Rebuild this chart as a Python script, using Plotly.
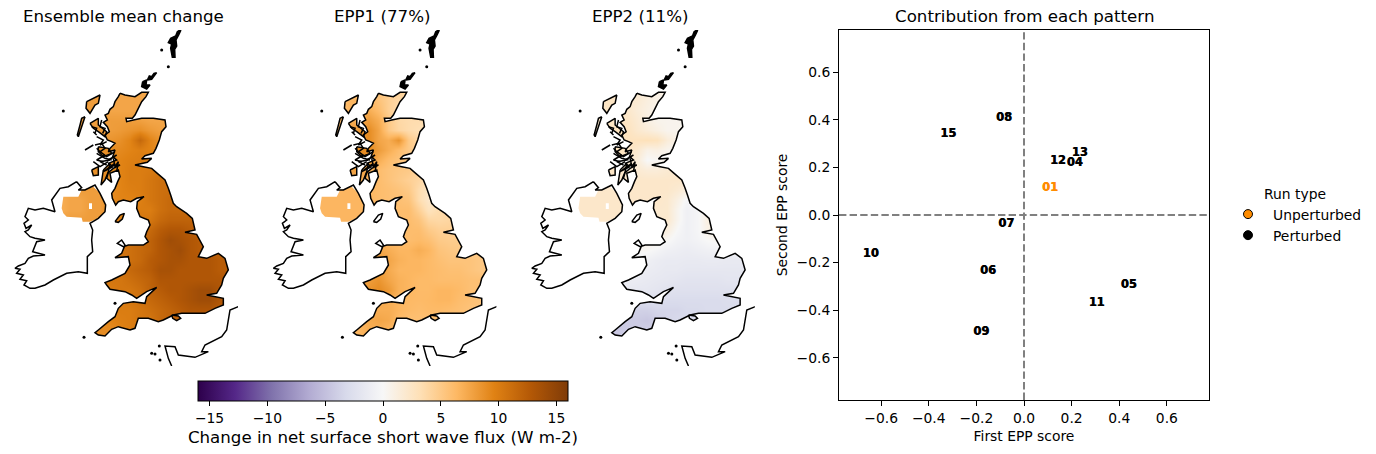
import plotly.graph_objects as go

# ---- data -----------------------------------------------------------------
run_ids = ["15","08","13","12","04","01","07","10","06","05","11","09"]
epp1 = [-0.318,-0.084,0.234,0.142,0.213,0.109,-0.075,-0.644,-0.151,0.44,0.305,-0.18]
epp2 = [0.339,0.406,0.259,0.226,0.218,0.113,-0.038,-0.163,-0.234,-0.293,-0.372,-0.494]
cbar_ticks = [-15,-10,-5,0,5,10,15]
titles = ["Ensemble mean change","EPP1 (77%)","EPP2 (11%)"]
grid_x = [180,210,240,270,300,330,360,390,420,450,480,510,540,570,600,630,660,690]
grid_y = [210,240,270,300,330,360,390,420,450,480,510,540,570,600,630,660,690,720,750,780,810,840,870,900,930,960]

mean_change = [
[8,8,8,8,8,8,7.5,7.5,7.5,7.5,7.5,7.5,8,8,8,8,8,8],
[8,8,8,8,8,7.5,7.5,7.5,7.5,7.5,7.5,7.5,8,8,8,8,8,8],
[8,8,8,8,8,7.5,7.5,7.5,7.5,7.5,7.5,7.5,8,8,8,8,8,8],
[8,8,8,8,8,8,8,8,7.8,7.5,7.5,7.5,8,8,8,8,8,8],
[8,8,8,8,8,8,8.2,8.5,8.8,8.2,7.8,7.8,8,8,8,8,8,8],
[8,8,8,8,8,8.5,8.8,9.5,11.5,9.5,8.5,8.5,8,8,8,8,8,8],
[8,8,8,8,8.5,9,9.2,9.5,9.8,9.5,9,9,9,9,9,9,9,9],
[8,8,8,8.5,9,9,9.5,9.8,10,10,10,10,10,10,10,10,10,10],
[8,8,8,8.5,9,9,9.5,10,10,10.2,10.5,10.5,10.5,10.5,10.5,10.5,10.5,10.5],
[8,8,8,8.5,9,9,9.5,10,10,10.5,11,11,11,11,11,11,11,11],
[7,7.5,8,8,8,9,9.5,9.8,10,10.5,11,11.2,11,11,11,11,11,11],
[7,7.5,7.5,8,8,9,9.5,9.5,9.8,10.5,11,11.5,11.5,11,11,11,11,11],
[7,7.5,7.5,8,8,9,9.5,9.5,10,10,11,11.5,11.5,11.5,11.5,11.5,11.5,11.5],
[8,8,8,8,8,9,9.5,10,10.5,10.5,11.5,12,12,12,12,12,12,12],
[10,10,10,10,10,10,10,10.5,11,11.5,12.5,13,13,12.5,12,12,12,12],
[10,10,10,10,10,10,10,11,11.5,12,13,14,13.5,13,12.5,12,12,12],
[10,10,10,10,10,10,10.5,11,11.5,12,13,13.5,14,13,12.5,12.5,12,12],
[10,10,10,10,10,10.5,10.5,11,11.5,12.5,13,13.5,13.5,13,13,13,12.5,12.5],
[10,10,10,10,10,10.5,11,11.5,12,12.5,13.5,13.5,13,13,13,13,12.5,12.5],
[10,10,10,10,10,10.5,10.5,11,11.5,12,13,13,13,13,13,13,13,12.5],
[10,10,10,10,10,10,10.5,10.5,11,12,12.5,13,13,13.5,14,14,13,12.5],
[10,10,10,10,10,10,10,10.5,11,11.5,12,12.5,13,13.5,14,14,13,12.5],
[9,9,9,9,9,9.5,10,10,10.5,11,11.5,12,12.5,13,13,13,12.5,12.5],
[9,9,9,9,9,9.5,9.8,10,10.5,10.5,11.5,12,12,12,12,12,12,12],
[9,9,9,9,9,9,9.5,10,10,10.5,11,11,11,11,11,11,11,11],
[9,9,9,9,9,9,9.5,10,10,10.5,11,11,11,11,11,11,11,11]]

epp1_map = [
[5,5,5,5,5,5,5.5,5,4.5,4,4,4,4,4,4,4,4,4],
[5,5,5,6.5,6.5,6.5,5.5,4.5,3.8,3.5,3.5,3.5,4,4,4,4,4,4],
[5,5,5,6.5,6.5,7,6,4.5,3.5,3.5,3.5,3.5,4,4,4,4,4,4],
[6,6,6,7,7,8,7,5,3.8,3.5,3.5,3.5,4,4,4,4,4,4],
[6,6,6,7.5,8,9,7.5,5,4,3.5,3.2,3.2,4,4,4,4,4,4],
[6,6,6,7.5,8.5,9,7.5,7,8.5,5,3.8,3.5,4,4,4,4,4,4],
[6,6,6,8,9,9,8,7,6,5,4.5,4,4,4,4,4,4,4],
[6,6,6,8,9,8.5,7,6,5.5,5.2,4.5,4,4,4,4,4,4,4],
[6,6,6,7.5,8,7,6,5.5,5.2,5,4.2,3.5,3.5,3.5,3.5,3.5,3.5,3.5],
[6,6,6,7,7,6.5,6,5.5,5,4.5,4,3,3,3,3,3,3,3],
[6.5,6.5,6.5,6.5,6.5,6.5,6,5.8,5.5,5,3.5,2.5,3,3.5,3.5,3.5,3.5,3.5],
[6.5,6.5,6.5,6.5,6.5,6.5,6,5.8,5.8,5.5,3.5,2.2,3,4,4,4,4,4],
[6.5,6.5,6.5,6.5,6.5,6.5,6,6,6,6,4.5,2.8,3.5,4,4,4,4,4],
[6.5,6.5,6.5,6.5,6.5,6.5,6.2,6,6,6,5.5,4,3.8,4,4,4,4,4],
[6.5,6.5,6.5,6.5,6.5,6.5,6.2,6,6,6,6,5,4.5,4.5,4.5,4.5,4.5,4.5],
[6.5,6.5,6.5,6.5,6.5,6.5,6.5,6.2,6.2,6,6.2,5.8,5,4.8,4.8,4.5,4.5,4.5],
[6.5,6.5,6.5,6.5,6.5,7,7.5,7,6.5,6.5,7,6.5,5.5,5.2,5,5,5,5],
[6.5,6.5,6.5,6.5,7,7.5,8,7.5,6.8,6.5,6.5,6.2,5.8,5.5,5.5,5.5,5.2,5.2],
[6.5,6.5,6.5,6.5,7,8,8,7.2,6.5,6.5,6.5,6.2,6,5.8,5.8,5.5,5.2,5.2],
[6.5,6.5,6.5,6.5,7,8,8.5,7.5,6.8,6.5,6.2,6.2,6,6,6,5.8,5.8,5.5],
[6.5,6.5,6.5,7,8,8.5,9,8.2,6.8,6.5,6.2,6.2,6.5,6.5,6.2,5.8,5.8,5.5],
[6.5,6.5,6.5,6.5,7.5,7.5,7.5,7,6.5,6.3,6.2,6.3,6.5,6.5,6,5.8,5.5,5.5],
[6.5,6.5,6.5,6.5,7,7,7,7,6.5,6.2,6,6.2,6.2,6,5.8,5.5,5.5,5.5],
[6.5,6.5,6.5,6.5,6.5,7.2,7.5,7.2,6.2,5.8,5.8,5.8,5.8,5.8,5.5,5.5,5.5,5.5],
[6.5,6.5,6.5,6.5,6.5,7,7,6.5,6,5.5,5.5,5.5,5.5,5.5,5.5,5.5,5.5,5.5],
[6.5,6.5,6.5,6.5,6.5,7,7,6.5,6,5.5,5.5,5.5,5.5,5.5,5.5,5.5,5.5,5.5]]

epp2_map = [
[2,2,2,2,2,2,1.8,1.5,1,1,1,1,1,1,1,1,1,1],
[2,2,2,2.5,2.5,2,1.8,1.2,0.8,0.6,0.6,0.6,1,1,1,1,1,1],
[2,2,2,2.5,2.5,2.2,1.5,1,0.6,0.5,0.5,0.5,1,1,1,1,1,1],
[2,2,2,2.5,2.5,2.5,1.8,1,0.6,0.5,0.5,0.5,1,1,1,1,1,1],
[2,2,2,2.5,2.8,2.8,2,1.5,1,0.5,0.5,0.3,1,1,1,1,1,1],
[2,2,2,2.5,2.8,2.8,2.8,3,2.8,1.5,0.8,0.5,1,1,1,1,1,1],
[2,2,2,2.5,2.8,2.5,2,0.8,1,0.5,0.3,0.3,0.5,0.5,0.5,0.5,0.5,0.5],
[2,2,2,2.5,2.5,2,1.5,0,0.2,0.5,1,1.5,1.5,1.5,1.5,1.5,1.5,1.5],
[2,2,2,2.5,2.5,2,1.8,1.5,1.5,1.8,2,2,2,2,2,2,2,2],
[2,2,2,2,2,2.2,2.2,2.2,2.2,2.2,2.2,2.2,2,2,2,2,2,2],
[2.2,2.2,2.2,2.2,2.2,2.2,2.2,2.2,2.2,2.2,1.8,1.2,1.2,1.2,1.2,1.2,1.2,1.2],
[2.2,2.2,2.2,2.2,2.2,2.2,2.2,2.2,2.2,2,1,-0.3,0.2,1,1,1,1,1],
[2.2,2.2,2.2,2.2,2.2,2.2,2.2,2.2,2,2,0.5,-0.8,-0.3,0.8,1,1,1,1],
[2.2,2.2,2.2,2.2,2.2,2.2,2.2,2,2,2,0.5,-0.8,-0.3,1,1.2,1.2,1.2,1.2],
[1,1,1,1,1,1,1.2,1.5,1.8,1.2,0,-0.8,-0.3,0.8,1.5,1.5,1.5,1.5],
[0.5,0.5,0.5,0.5,0.5,0.5,0.8,0.8,0.8,0.2,-0.5,-0.8,-0.5,0,0.3,0.3,0.3,0.3],
[0,0,0,0,0,0,0.3,0.2,-0.3,-0.8,-1,-1.2,-1,-0.8,-0.6,-0.5,-0.5,-0.5],
[-0.5,-0.5,-0.5,-0.5,-0.5,-0.5,-0.6,-0.8,-1.2,-1.4,-1.4,-1.5,-1.5,-1.4,-1.4,-1.5,-1.5,-1.5],
[-1,-1,-1,-1,-1,-1,-1,-1.2,-1.4,-1.6,-1.6,-1.8,-1.8,-1.8,-1.8,-1.8,-1.8,-1.8],
[-1.5,-1.5,-1.5,-1.5,-1.2,-1.2,-1.3,-1.5,-1.7,-1.8,-2,-2.2,-2.2,-2.2,-2.2,-2,-2,-2],
[-2,-2,-2,-2,-1.5,-1.5,-1.8,-1.8,-2,-2.3,-2.5,-2.5,-2.5,-2.5,-2.5,-2.5,-2.5,-2.5],
[-3,-3,-3,-3,-2.8,-2.8,-2.8,-2.8,-2.8,-3,-3,-3,-3,-3,-3,-2.8,-2.8,-2.8],
[-4,-4,-4,-4,-4,-3.8,-3.8,-3.8,-3.5,-3.5,-3.5,-3.2,-3.2,-3,-3,-3,-3,-3],
[-4.5,-4.5,-4.5,-4.5,-4.5,-4.2,-4.2,-4.5,-4,-3.5,-3.2,-3.2,-3,-3,-3,-3,-3,-3],
[-4.5,-4.5,-4.5,-4.5,-4.5,-4.2,-4.2,-4,-3.8,-3.5,-3.2,-3,-3,-3,-3,-3,-3,-3],
[-4.5,-4.5,-4.5,-4.5,-4.5,-4.2,-4.2,-4,-3.8,-3.5,-3.2,-3,-3,-3,-3,-3,-3,-3]]

# coast outlines in map units (x east, y south)
gb_main = [(360,220),(355,230),(345,245),(340,260),(330,268),(325,280),(315,285),(322,300),(310,307),(322,320),(328,335),(315,345),(322,360),(335,365),(345,370),(330,385),(325,395),(345,390),(338,410),(350,420),(325,430),(335,437),(360,435),(340,445),(325,457),(320,475),(335,487),(330,460),(355,450),(360,470),(353,485),(345,505),(335,520),(337,535),(347,555),(355,545),(370,540),(392,545),(410,535),(432,530),(412,545),(410,565),(420,590),(445,600),(450,615),(440,635),(435,650),(445,665),(430,675),(385,675),(370,680),(352,670),(365,660),(375,675),(365,700),(345,713),(385,710),(390,735),(375,760),(335,780),(315,788),(320,795),(330,808),(375,815),(395,825),(410,835),(440,815),(470,802),(440,830),(435,850),(400,845),(370,850),(355,865),(345,890),(325,905),(295,930),(285,938),(295,945),(315,948),(335,928),(355,920),(390,930),(405,925),(415,895),(445,895),(475,905),(490,900),(520,885),(545,880),(600,880),(615,880),(645,865),(670,855),(670,835),(620,825),(650,820),(665,795),(670,775),(685,750),(675,715),(655,700),(620,715),(595,710),(610,680),(590,643),(555,637),(585,630),(577,595),(560,580),(530,560),(520,550),(512,525),(505,505),(495,480),(472,460),(455,445),(430,440),(405,435),(442,427),(455,415),(425,417),(435,407),(460,400),(468,385),(478,360),(485,335),(498,320),(495,300),(460,295),(425,295),(400,300),(380,305),(378,295),(397,295),(405,285),(415,265),(425,245),(438,230),(445,217),(425,217),(405,230),(375,225),(360,220)]
lewis = [(260,245),(300,225),(295,250),(285,255),(270,280),(258,265),(260,245)]
uist = [(255,290),(235,350),(232,345),(240,315),(245,295),(255,290)]
skye = [(270,310),(295,295),(295,315),(320,335),(315,350),(295,335),(280,325),(270,310)]
mull = [(295,380),(325,385),(335,400),(310,410),(295,395),(295,380)]
islay = [(275,450),(295,440),(295,465),(280,467),(275,450)]
jura = [(310,450),(330,430),(325,455),(315,480),(303,495),(310,450)]
man = [(345,605),(360,585),(373,580),(367,597),(355,607),(345,605)]
wight = [(515,885),(535,888),(542,895),(530,902),(518,895),(515,885)]
ireland = [(230,485),(245,503),(235,510),(255,510),(285,495),(300,520),(317,555),(315,575),(295,595),(270,610),(278,630),(275,660),(278,695),(262,710),(262,760),(235,755),(200,760),(160,780),(135,795),(105,805),(90,805),(72,795),(80,782),(60,778),(70,765),(50,760),(60,748),(45,745),(55,738),(75,730),(85,715),(100,708),(135,705),(98,695),(110,665),(135,660),(105,655),(90,650),(75,635),(85,630),(95,615),(78,625),(72,610),(85,600),(75,590),(85,565),(105,570),(130,565),(165,575),(155,540),(180,505),(205,500),(230,485)]
ni_cells = [(190,530),(235,530),(245,510),(280,500),(300,520),(317,555),(315,575),(295,595),(270,605),(248,605),(245,593),(200,590),(190,580),(185,565),(190,530)]
ni_lough = [(267,550),(276,550),(276,567),(267,567),(267,550)]
france = [(720,858),(690,870),(680,930),(665,950),(615,975),(605,995),(625,995),(585,1012),(535,1005),(525,980),(495,978),(505,1015),(515,1038)]
sea_lochs = [[(255,390),(280,375)],[(300,395),(320,410),(345,395)],[(330,420),(300,425),(320,435)],[(340,440),(310,455),(345,430)],[(290,350),(310,360),(300,375),(320,365)],[(315,405),(290,420),(310,425)],[(280,335),(290,345)],[(345,410),(325,420),(350,405)],[(285,375),(305,370),(315,385),(300,395),(290,385)],[(290,400),(315,415),(335,420)],[(280,425),(300,440),(325,425)],[(340,415),(345,440),(355,425),(350,455)],[(305,300),(300,320),(315,325),(308,340)],[(275,320),(290,325),(285,340)]]
shetland = [(540,30),(532,35),(527,48),(512,55),(505,68),(515,72),(512,85),(517,112),(525,112),(524,88),(530,78),(528,60),(536,45),(542,32),(540,30)]
orkney_a = [(470,158),(462,160),(455,170),(448,168),(442,180),(455,178),(470,158)]
orkney_b = [(428,185),(425,200),(440,207),(450,195),(438,195),(440,180),(428,185)]
dots = [(190,273),(485,90),(505,140),(252,952),(345,850),(455,1000),(480,1020),(478,978),(465,1002)]

land_cut = [gb_main, lewis, uist, skye, mull, islay, jura, wight, ni_cells]
coast_lines = [gb_main, lewis, uist, skye, mull, islay, jura, man, wight, ireland, france]+sea_lochs

COLORS = [[0,"#2d004b"],[0.1,"#542788"],[0.2,"#8073ac"],[0.3,"#b2abd2"],[0.4,"#d8daeb"],[0.5,"#f7f7f7"],[0.6,"#fee0b6"],[0.7,"#fdb863"],[0.8,"#e08214"],[0.9,"#b35806"],[1,"#7f3b08"]]
FONT = "DejaVu Sans"
W, H = 1376, 454
X_R, Y_R = [30,714], [1038,30]

def area(p):
    return sum(p[i][0]*p[i+1][1]-p[i+1][0]*p[i][1] for i in range(len(p)-1))

def oriented(p, sign):
    return p if area(p)*sign > 0 else p[::-1]

def mask_path(cuts, holes):
    a = (X_R[0],Y_R[1]); rect = [a,(X_R[1],Y_R[1]),(X_R[1],Y_R[0]),(X_R[0],Y_R[0]),a]
    s = 1 if area(rect) > 0 else -1
    path = list(rect)
    for c in cuts:
        path += oriented(c,-s)+[a]
    for h in holes:
        path += oriented(h,s)+[a]
    return [q[0] for q in path],[q[1] for q in path]

def joined(polys):
    xs, ys = [], []
    for p in polys:
        xs += [q[0] for q in p]+[None]
        ys += [q[1] for q in p]+[None]
    return xs, ys

fig = go.Figure()
layout = {}
for i,(z,t) in enumerate(zip([mean_change,epp1_map,epp2_map],titles)):
    n = "" if i==0 else str(i+1)
    xa,ya = "x"+n,"y"+n
    left = 10+258.4*i
    layout["xaxis"+n] = dict(domain=[left/W,(left+228)/W],range=X_R,visible=False,fixedrange=True)
    layout["yaxis"+n] = dict(domain=[1-366/H,1-30/H],range=Y_R,visible=False,fixedrange=True)
    fig.add_trace(go.Heatmap(x=grid_x,y=grid_y,z=z,coloraxis="coloraxis",zsmooth="best",xaxis=xa,yaxis=ya,showlegend=False))
    cuts = land_cut+([man] if i==0 else [])
    mx,my = mask_path(cuts,[ni_lough])
    fig.add_trace(go.Scatter(x=mx,y=my,mode="lines",fill="toself",fillcolor="white",line=dict(width=0,simplify=False),xaxis=xa,yaxis=ya,showlegend=False,hoverinfo="skip"))
    bx,by = joined([shetland,orkney_a,orkney_b])
    fig.add_trace(go.Scatter(x=bx,y=by,mode="lines",fill="toself",fillcolor="black",line=dict(color="black",width=1.5),xaxis=xa,yaxis=ya,showlegend=False,hoverinfo="skip"))
    cx,cy = joined(coast_lines)
    fig.add_trace(go.Scatter(x=cx,y=cy,mode="lines",line=dict(color="black",width=1.5,simplify=False),xaxis=xa,yaxis=ya,showlegend=False,hoverinfo="skip"))
    fig.add_trace(go.Scatter(x=[d[0] for d in dots],y=[d[1] for d in dots],mode="markers",marker=dict(color="black",size=3),xaxis=xa,yaxis=ya,showlegend=False,hoverinfo="skip"))
    layout.setdefault("annotations",[]).append(dict(text=t,x=(left+114)/W,y=1-16/H,xref="paper",yref="paper",xanchor="center",yanchor="middle",showarrow=False,font=dict(family=FONT,size=16.67,color="black")))

# scatter panel
axis_style = dict(range=[-0.777,0.777],tickvals=[-0.6,-0.4,-0.2,0,0.2,0.4,0.6],ticktext=["−0.6","−0.4","−0.2","0.0","0.2","0.4","0.6"],ticks="outside",ticklen=5,tickwidth=1,tickcolor="black",showline=True,mirror=True,linecolor="black",linewidth=1,showgrid=False,zeroline=False,fixedrange=True,tickfont=dict(family=FONT,size=13.89,color="black"))
layout["xaxis4"] = dict(domain=[839/W,1209/W],anchor="y4",title=dict(text="First EPP score",font=dict(family=FONT,size=13.89,color="black"),standoff=6),**axis_style)
layout["yaxis4"] = dict(domain=[1-400/H,1-30/H],anchor="x4",title=dict(text="Second EPP score",font=dict(family=FONT,size=13.89,color="black"),standoff=5),**axis_style)
layout["annotations"].append(dict(text="Contribution from each pattern",x=1024/W,y=1-16/H,xref="paper",yref="paper",xanchor="center",yanchor="middle",showarrow=False,font=dict(family=FONT,size=16.67,color="black")))
for xs,ys in [([-0.777,0.777],[0,0]),([0,0],[-0.777,0.777])]:
    fig.add_trace(go.Scatter(x=xs,y=ys,mode="lines",line=dict(color="#808080",width=2,dash="7.4px,3.2px"),xaxis="x4",yaxis="y4",showlegend=False,hoverinfo="skip"))
for want,col in [(False,"black"),(True,"darkorange")]:
    idx = [k for k,r in enumerate(run_ids) if (r=="01")==want]
    fig.add_trace(go.Scatter(x=[epp1[k] for k in idx],y=[epp2[k] for k in idx],text=[run_ids[k] for k in idx],mode="text",textposition="middle center",textfont=dict(family=FONT,size=11.4,weight=700,color=col,shadow=f"0.5px 0 0 {col}"),xaxis="x4",yaxis="y4",showlegend=False))
for name,col in [("Unperturbed","darkorange"),("Perturbed","black")]:
    fig.add_trace(go.Scatter(x=[None],y=[None],mode="markers",name=name,marker=dict(color=col,size=9,line=dict(color="black",width=1)),xaxis="x4",yaxis="y4"))

fig.update_layout(width=W,height=H,margin=dict(l=0,r=0,t=0,b=0),paper_bgcolor="white",plot_bgcolor="white",
    font=dict(family=FONT,size=13.89,color="black"),
    coloraxis=dict(cmin=-16,cmax=16,colorscale=COLORS,colorbar=dict(orientation="h",lenmode="pixels",len=370,thicknessmode="pixels",thickness=20,x=383/W,xanchor="center",y=1-381/H,yanchor="top",yref="paper",tickvals=cbar_ticks,ticks="outside",ticklen=5,tickcolor="black",outlinecolor="black",outlinewidth=1,xpad=0,ypad=0,tickfont=dict(family=FONT,size=13.89,color="black"),title=dict(text="Change in net surface short wave flux (W m-2)",side="bottom",font=dict(family=FONT,size=16.67,color="black")))),
    legend=dict(x=1223/W,y=1-180.5/H,xanchor="left",yanchor="top",title=dict(text="Run type",side="top center",font=dict(family=FONT,size=13.89)),font=dict(family=FONT,size=13.89),bgcolor="rgba(0,0,0,0)",itemwidth=40),
    **layout)
fig.write_html("out.html",config=dict(displayModeBar=False),post_script="document.body.style.margin='0';document.documentElement.style.overflow='hidden';")
